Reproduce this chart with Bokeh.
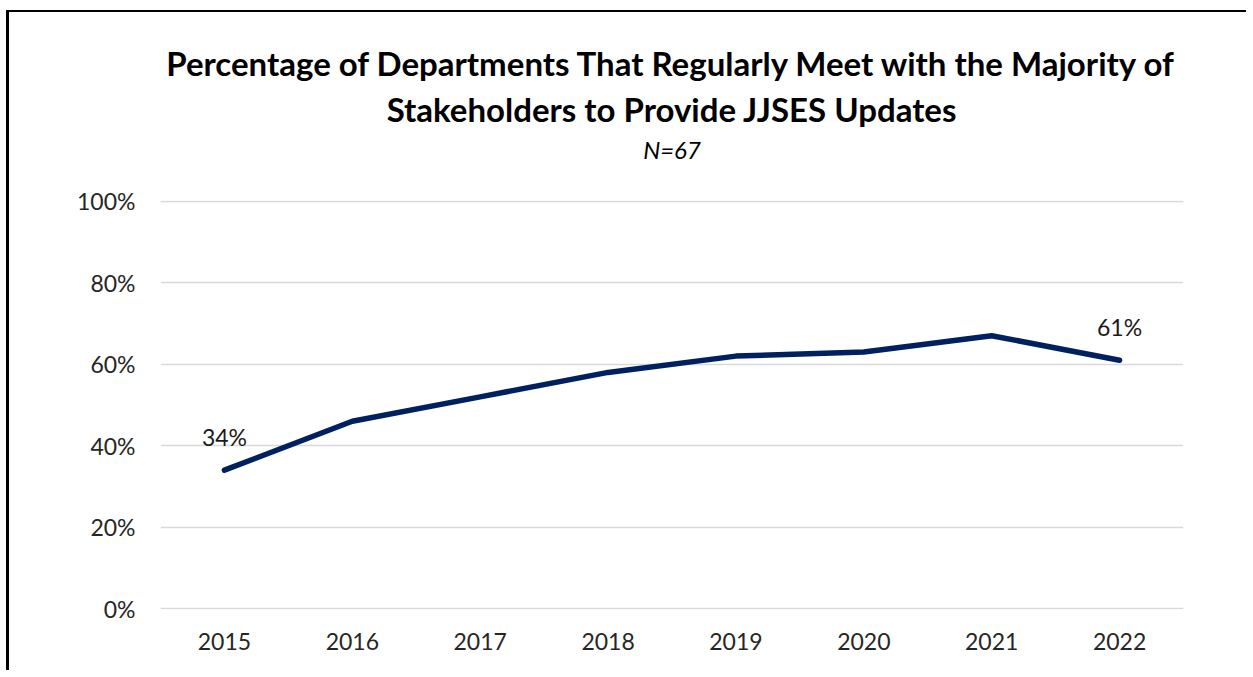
from bokeh.plotting import figure
from bokeh.models import ColumnDataSource, LabelSet, FixedTicker, NumeralTickFormatter, Range1d, Title
from bokeh.core.properties import value
from bokeh.embed import file_html
from bokeh.resources import INLINE

years = ["2015", "2016", "2017", "2018", "2019", "2020", "2021", "2022"]
values = [0.34, 0.46, 0.52, 0.58, 0.62, 0.63, 0.67, 0.61]
label_years = ["2015", "2022"]
label_values = [0.34, 0.61]
label_texts = ["34%", "61%"]
y_ticks = [0, 0.2, 0.4, 0.6, 0.8, 1.0]
title_line1 = "Percentage of Departments That Regularly Meet with the Majority of"
title_line2 = "Stakeholders to Provide JJSES Updates"
subtitle = "N=67"

FONT = "Lato"
NAVY = "#002060"

p = figure(x_range=years, y_range=Range1d(-0.002, 1.002), width=1240, height=660,
           output_backend="svg", toolbar_location=None,
           min_border_left=151, min_border_right=66, min_border_top=188, min_border_bottom=63)
p.styles = {"border-left": "3px solid black", "border-top": "2px solid black",
            "margin-left": "6px", "margin-top": "10px"}
p.outline_line_color = None
p.background_fill_color = "white"
p.border_fill_color = "white"

p.xgrid.grid_line_color = None
p.ygrid.grid_line_color = "#d9d9d9"
p.ygrid.grid_line_width = 1.5
p.yaxis.ticker = FixedTicker(ticks=y_ticks)
p.yaxis.formatter = NumeralTickFormatter(format="0%")

for ax in (p.xaxis, p.yaxis):
    ax.axis_line_color = None
    ax.major_tick_line_color = None
    ax.minor_tick_line_color = None
    ax.major_tick_out = 0
    ax.major_label_text_font = FONT
    ax.major_label_text_font_size = "23px"
    ax.major_label_text_color = "#262626"
p.xaxis.major_label_standoff = 23
p.yaxis.major_label_standoff = 25

src = ColumnDataSource(dict(x=years, y=values))
p.line("x", "y", source=src, line_color=NAVY, line_width=5.5, line_cap="round", line_join="round")

lsrc = ColumnDataSource(dict(x=label_years, y=label_values, t=label_texts))
p.add_layout(LabelSet(x="x", y="y", text="t", source=lsrc, text_align="center",
                      text_baseline="alphabetic", y_offset=24, text_font=value(FONT),
                      text_font_size=value("23px"), text_color="#1a1a1a"))

# titles: added innermost first (a thin spacer keeps the gap above the plot)
p.add_layout(Title(text=" ", text_font_size="2px", standoff=33), "above")
p.add_layout(Title(text=subtitle, align="center", text_font=FONT, text_font_style="italic",
                   text_font_size="24px", text_color="black", standoff=0), "above")
p.add_layout(Title(text=title_line2, align="center", text_font=FONT, text_font_style="bold",
                   text_font_size="33px", text_color="black", standoff=8), "above")
p.add_layout(Title(text=title_line1, align="center", text_font=FONT, text_font_style="bold",
                   text_font_size="33px", text_color="black", standoff=0), "above")

open("out.html", "w").write(file_html(p, INLINE))
